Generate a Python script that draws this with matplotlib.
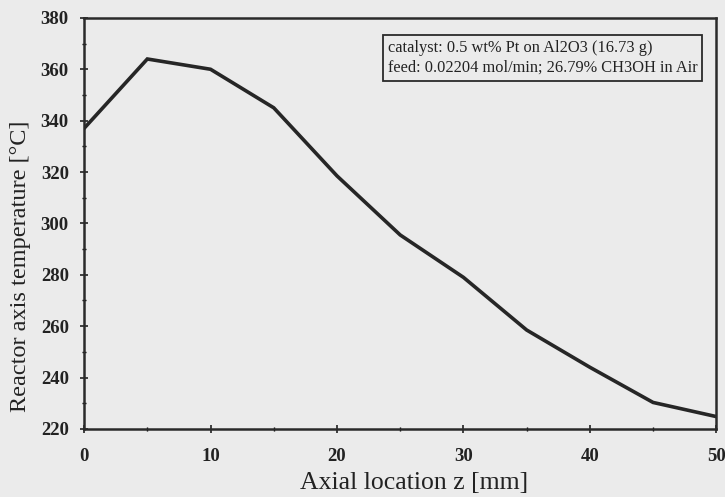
import matplotlib
matplotlib.use("Agg")
import matplotlib.pyplot as plt
from matplotlib.ticker import MultipleLocator

# axial position [mm] and reactor axis temperature [C]
z_mm = [0, 5, 10, 15, 20, 25, 30, 35, 40, 45, 50]
temp_c = [337, 364, 360, 345, 318.5, 295.5, 279, 258.5, 244, 230.3, 224.8]

note_lines = ["catalyst: 0.5 wt% Pt on Al2O3 (16.73 g)",
              "feed: 0.02204 mol/min; 26.79% CH3OH in Air"]

plt.rcParams['font.family'] = ['Liberation Serif', 'DejaVu Serif']

bg = '#ebebeb'
fig = plt.figure(figsize=(7.25, 4.97), dpi=100, facecolor=bg)
# axes box: x 84..716 px, y 18..429 px
ax = fig.add_axes([0.116, 0.137, 0.872, 0.827], facecolor=bg)

ax.plot(z_mm, temp_c, color='#262626', linewidth=2.6, solid_joinstyle='miter')

ax.set_xlim(0, 50)
ax.set_ylim(220, 380)
ax.xaxis.set_major_locator(MultipleLocator(10))
ax.xaxis.set_minor_locator(MultipleLocator(5))
ax.yaxis.set_major_locator(MultipleLocator(20))
ax.yaxis.set_minor_locator(MultipleLocator(10))
ax.tick_params(which='major', direction='inout', length=6, width=1.2,
               labelsize=13.5, colors='#222222')
ax.tick_params(which='minor', direction='inout', length=3, width=1)
ax.tick_params(axis='x', which='major', pad=11)
ax.tick_params(axis='y', which='major', pad=8)
for t in ax.get_xticklabels() + ax.get_yticklabels():
    t.set_fontweight('bold')
for s in ax.spines.values():
    s.set_linewidth(1.8)
    s.set_color('#2a2a2a')

ax.set_xlabel("Axial location z [mm]", fontsize=18.5, color='#222222')
ax.set_ylabel("Reactor axis temperature [°C]", fontsize=17.5, color='#222222')
# the scan has both labels a little off-centre
ax.xaxis.set_label_coords(0.522, -0.105)
ax.yaxis.set_label_coords(-0.084, 0.395)

ax.text(0.48, 0.946, "\n".join(note_lines), transform=ax.transAxes,
        fontsize=11.8, va='top', ha='left', color='#222222', linespacing=1.3,
        bbox=dict(boxstyle='square,pad=0.3', facecolor=bg,
                  edgecolor='#2a2a2a', linewidth=1.3))

fig.savefig("out.png", dpi=100, facecolor=bg)
